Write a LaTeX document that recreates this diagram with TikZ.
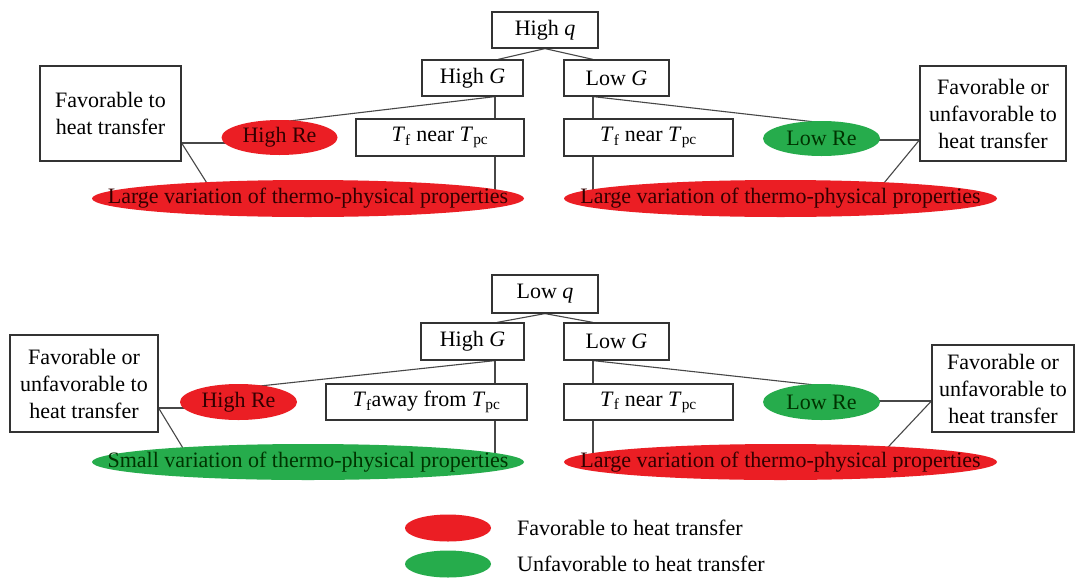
\documentclass[tikz,border=0pt]{standalone}
\usepackage{fontspec}
\setmainfont{Liberation Serif}
\usetikzlibrary{shapes.geometric,backgrounds,calc}
\definecolor{fred}{RGB}{235,30,36}
\definecolor{fgreen}{RGB}{38,172,76}
\newcommand{\Tsub}[1]{\textit{T}\textsubscript{#1}}
\begin{document}
\begin{tikzpicture}[x=1pt,y=-1pt,font=\fontsize{22}{27}\selectfont,
  box/.style={draw=black!80,line width=1.2pt,fill=white,inner sep=0pt,align=center},
  ell/.style={ellipse,inner sep=0pt,draw=none},
  redell/.style={ell,fill=fred},
  greenell/.style={ell,fill=fgreen},
  rtxt/.style={text=black!80!red,inner sep=0pt},
  gtxt/.style={text=black!80!green,inner sep=0pt},
  conn/.style={draw=black!72,line width=1.1pt}]
\useasboundingbox (0,0) rectangle (1078,581);

% ---------- top: High q ----------
\node[box,minimum width=106,minimum height=36] (hq) at (545,30) {High \textit{q}};
\node[box,minimum width=101,minimum height=36] (hG1) at (472.5,78) {High \textit{G}};
\node[box,minimum width=105,minimum height=36] (lG1) at (616.5,78) {Low \textit{G}};
\node[box,minimum width=168,minimum height=37] (tf1) at (440,137.5) {\Tsub{f} near \Tsub{pc}};
\node[box,minimum width=169,minimum height=37] (tf2) at (648.5,137.5) {\Tsub{f} near \Tsub{pc}};
\node[redell,minimum width=116,minimum height=35,label={[rtxt]center:High Re}] (hre1) at (279.5,137.5) {};
\node[greenell,minimum width=117,minimum height=35,label={[gtxt]center:Low Re}] (lre1) at (821.5,138.5) {};
\node[redell,minimum width=432,minimum height=37,label={[rtxt]center:Large variation of thermo-physical properties}] (big1) at (308,198.5) {};
\node[redell,minimum width=433,minimum height=37,label={[rtxt]center:Large variation of thermo-physical properties}] (big2) at (780.5,198.5) {};
\node[box,minimum width=141,minimum height=95] (fav1) at (110.5,113.5) {Favorable to\\heat transfer};
\node[box,minimum width=146,minimum height=95] (fav2) at (993,113.5) {Favorable or\\unfavorable to\\heat transfer};

% ---------- bottom: Low q ----------
\node[box,minimum width=106,minimum height=38] (lq) at (545,294) {Low \textit{q}};
\node[box,minimum width=103,minimum height=37] (hG2) at (472.5,341.5) {High \textit{G}};
\node[box,minimum width=105,minimum height=37] (lG2) at (616.5,341.5) {Low \textit{G}};
\node[box,minimum width=201,minimum height=36] (tf3) at (426.5,402) {\Tsub{f}away from \Tsub{pc}};
\node[box,minimum width=169,minimum height=36] (tf4) at (648.5,402) {\Tsub{f} near \Tsub{pc}};
\node[redell,minimum width=117,minimum height=36,label={[rtxt]center:High Re}] (hre2) at (238.5,402) {};
\node[greenell,minimum width=117,minimum height=36,label={[gtxt]center:Low Re}] (lre2) at (821.5,402) {};
\node[greenell,minimum width=432,minimum height=36,label={[gtxt]center:Small variation of thermo-physical properties}] (small) at (308,462) {};
\node[redell,minimum width=433,minimum height=36,label={[rtxt]center:Large variation of thermo-physical properties}] (big4) at (780.5,462) {};
\node[box,minimum width=148,minimum height=97] (fav3) at (84,383.5) {Favorable or\\unfavorable to\\heat transfer};
\node[box,minimum width=142,minimum height=87] (fav4) at (1003,388.5) {Favorable or\\unfavorable to\\heat transfer};

% ---------- legend ----------
\node[redell,minimum width=86,minimum height=27] (leg1) at (448,528) {};
\node[greenell,minimum width=86,minimum height=27] (leg2) at (448,564) {};
\node[anchor=west,inner sep=0pt] (legt1) at (517,528) {Favorable to heat transfer};
\node[anchor=west,inner sep=0pt] (legt2) at (517,564) {Unfavorable to heat transfer};

% ---------- connectors ----------
\begin{scope}[on background layer]
\fill[white] (0,0) rectangle (1078,581);
% top
\draw[conn] (hq.south) -- ([xshift=25.5]hG1.north);
\draw[conn] (hq.south) -- ([xshift=-23.5]lG1.north);
\draw[conn] ([xshift=22.5]hG1.south) -- ([xshift=55]tf1.north);
\draw[conn] ([xshift=22.5]hG1.south) -- ([xshift=3,yshift=-2]hre1.north);
\draw[conn] ([xshift=55]tf1.south) -- ([xshift=55]tf1.south |- big1.center);
\draw[conn] ([yshift=-29.5]fav1.east) -- ([yshift=-29.5]fav1.east -| hre1.center);
\draw[conn] ([yshift=-29.5]fav1.east) -- ([xshift=-100,yshift=-5]big1.north);
\draw[conn] ([xshift=-23.5]lG1.south) -- ([xshift=-55.5]tf2.north);
\draw[conn] ([xshift=-23.5]lG1.south) -- ([xshift=1,yshift=-2]lre1.north);
\draw[conn] ([xshift=-55.5]tf2.south) -- ([xshift=-55.5]tf2.south |- big2.center);
\draw[conn] ([yshift=-26.5]fav2.west) -- ([yshift=-26.5]fav2.west -| lre1.center);
\draw[conn] ([yshift=-26.5]fav2.west) -- ([xshift=102,yshift=-5]big2.north);
% bottom
\draw[conn] (lq.south) -- ([xshift=24.5]hG2.north);
\draw[conn] (lq.south) -- ([xshift=-23.5]lG2.north);
\draw[conn] ([xshift=22.5]hG2.south) -- ([xshift=68.5]tf3.north);
\draw[conn] ([xshift=22.5]hG2.south) -- ([xshift=14,yshift=-3]hre2.north);
\draw[conn] ([xshift=68.5]tf3.south) -- ([xshift=68.5]tf3.south |- small.center);
\draw[conn] ([yshift=-24.5]fav3.east) -- ([yshift=-24.5]fav3.east -| hre2.center);
\draw[conn] ([yshift=-24.5]fav3.east) -- ([xshift=-124,yshift=-6]small.north);
\draw[conn] ([xshift=-23.5]lG2.south) -- ([xshift=-55.5]tf4.north);
\draw[conn] ([xshift=-23.5]lG2.south) -- ([xshift=1,yshift=-2]lre2.north);
\draw[conn] ([xshift=-55.5]tf4.south) -- ([xshift=-55.5]tf4.south |- big4.center);
\draw[conn] ([yshift=-12.5]fav4.west) -- ([yshift=-12.5]fav4.west -| lre2.center);
\draw[conn] ([yshift=-12.5]fav4.west) -- ([xshift=105,yshift=-6]big4.north);
\end{scope}
\end{tikzpicture}
\end{document}
